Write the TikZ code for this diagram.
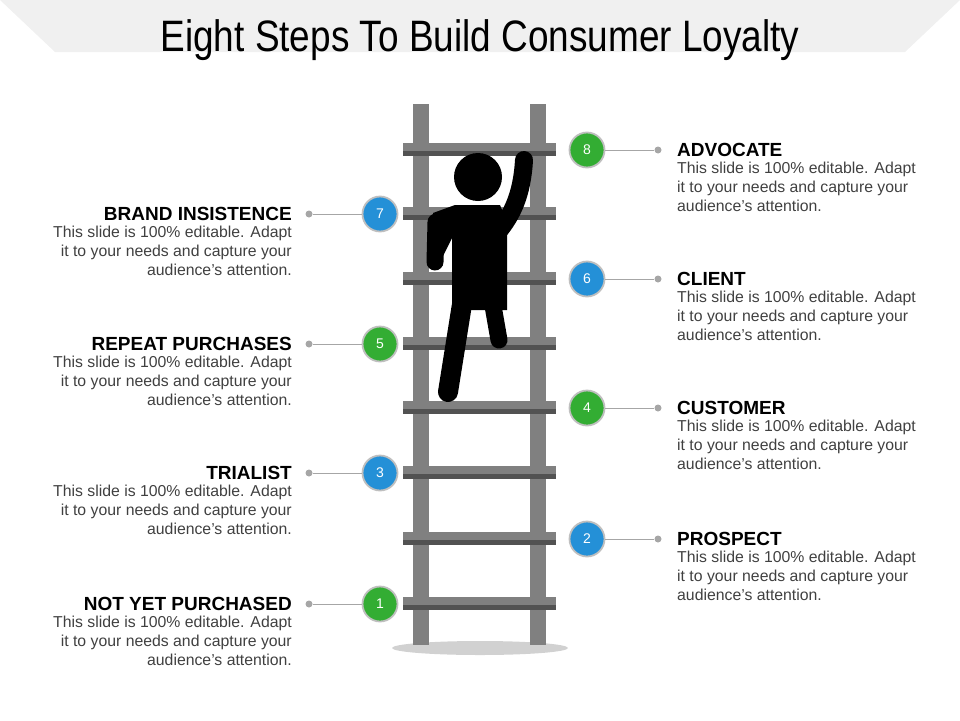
\documentclass[tikz,border=0pt]{standalone}
\usepackage{fontspec}
\setmainfont{Liberation Sans}
\begin{document}
\begin{tikzpicture}[x=1pt,y=-1pt,
  circ/.style={circle,draw=black!25,line width=1.8pt,minimum size=35pt,inner sep=0pt,text=white,font=\fontsize{14}{14}\selectfont},
  grn/.style={circ,fill=green!60!black!80!white},
  blu/.style={circ,fill=cyan!70!blue!90!white},
  dot/.style={circle,fill=black!35,minimum size=7pt,inner sep=0pt},
  lnk/.style={draw=black!35,line width=0.8pt},
  ttl/.style={font=\fontsize{19}{20}\selectfont\bfseries,inner sep=0pt},
  dsc/.style={font=\fontsize{15.8}{19}\selectfont,text=black!75,inner sep=0pt},
  rail/.style={fill=black!50},
  limb/.style={line width=18pt,line cap=round,draw=black}]
\useasboundingbox (0,0) rectangle (960,720);
\fill[black!6] (0,0) -- (960,0) -- (905,52) -- (55,52) -- cycle;
\node[inner sep=0pt] (title) at (480,40) {\scalebox{0.84}[1]{\fontsize{44}{46}\selectfont Eight Steps To Build Consumer Loyalty}};
% shadow
\fill[black!18] (480,648) ellipse (88 and 7);
% rails
\fill[rail] (413,104) rectangle (429,645);
\fill[rail] (530,104) rectangle (546,645);
\foreach \y in {150,214,279,344,408,473,539,604}{
  \fill[black!50] (403,\y-7) rectangle (556,\y+1);
  \fill[black!68] (403,\y+1) rectangle (556,\y+6);
}
% figure
\fill[black] (478,177) circle (24);
\draw[limb] (524,160) .. controls (522,195) and (512,215) .. (498,232);
\draw[limb,line width=17pt] (436,222) -- (435,262);
\fill[black] (433,213) -- (455,205) -- (500,205) -- (507,222) -- (507,310) -- (452,310) -- (452,238) -- (440,262) -- cycle;
\draw[limb,line width=20pt] (463,298) -- (448,392);
\draw[limb,line width=17pt] (492,300) -- (499,340);
% circles
\node[grn] (c8) at (587,150) {8};
\node[blu] (c6) at (587,279) {6};
\node[grn] (c4) at (587,408) {4};
\node[blu] (c2) at (587,539) {2};
\node[blu] (c7) at (380,214) {7};
\node[grn] (c5) at (380,344) {5};
\node[blu] (c3) at (380,473) {3};
\node[grn] (c1) at (380,604) {1};
\foreach \n/\y in {8/150,6/279,4/408,2/539}{
  \node[dot] (d\n) at (658,\y) {};
  \draw[lnk] (c\n) -- (d\n);
}
\foreach \n/\y in {7/214,5/344,3/473,1/604}{
  \node[dot] (d\n) at (309,\y) {};
  \draw[lnk] (c\n) -- (d\n);
}
\def\desc{This slide is 100\% editable. Adapt\\it to your needs and capture your\\audience\char"27 s attention.}
% right texts
\foreach \n/\y/\t in {8/150/ADVOCATE,6/279/CLIENT,4/408/CUSTOMER,2/539/PROSPECT}{
  \node[ttl,anchor=west] (t\n) at (677,\y) {\t};
  \node[dsc,anchor=north west,align=left] (s\n) at (677,\y+12) {\desc};
}
\foreach \n/\y/\t in {7/214/BRAND INSISTENCE,5/344/REPEAT PURCHASES,3/473/TRIALIST,1/604/NOT YET PURCHASED}{
  \node[ttl,anchor=east] (t\n) at (292,\y) {\t};
  \node[dsc,anchor=north east,align=right] (s\n) at (292,\y+12) {\desc};
}
\end{tikzpicture}
\end{document}
